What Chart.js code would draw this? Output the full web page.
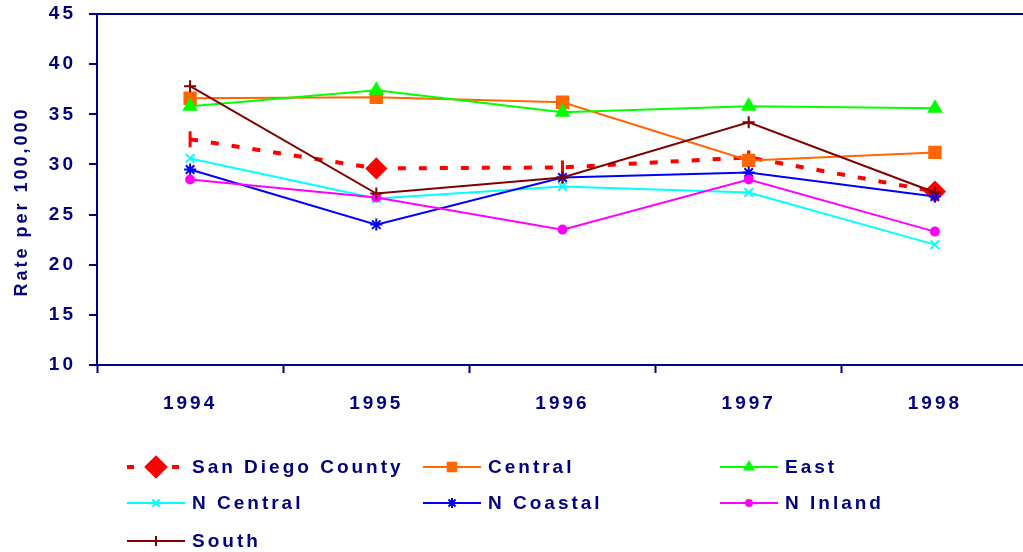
<!DOCTYPE html>
<html>
<head>
<meta charset="utf-8">
<script src="https://cdn.jsdelivr.net/npm/chart.js@4/dist/chart.umd.min.js"></script>
<style>
  html, body { margin: 0; padding: 0; background: #fff; overflow: hidden; }
  #wrap { width: 1040px; height: 552px; }
</style>
</head>
<body>
<div id="wrap"><canvas id="chart" width="1040" height="552"></canvas></div>
<script>
// values
const years = ['1994', '1995', '1996', '1997', '1998'];
const yTickValues = [10, 15, 20, 25, 30, 35, 40, 45];

const sanDiego = [32.5, 29.6, 29.7, 30.7, 27.3];
const central  = [36.6, 36.7, 36.2, 30.4, 31.2];
const east     = [35.8, 37.4, 35.2, 35.8, 35.6];
const nCentral = [30.6, 26.6, 27.8, 27.2, 22.0];
const nCoastal = [29.5, 24.0, 28.7, 29.2, 26.8];
const nInland  = [28.5, 26.7, 23.5, 28.5, 23.3];
const south    = [37.8, 27.1, 28.7, 34.2, 27.2];

const NAVY = '#000080';
const FONT = 'Liberation Sans, Arial, sans-serif';

function series(label, data, color, style, radius, legendRadius, order) {
    return {
        label: label,
        data: data,
        borderColor: color,
        backgroundColor: color,
        borderWidth: 2,
        pointStyle: style,
        pointRadius: radius,
        pointBorderWidth: 2,
        pointBackgroundColor: color,
        pointBorderColor: color,
        legendStyle: style,
        legendRadius: legendRadius,
        order: order
    };
}

const datasets = [
    {
        label: 'San Diego County',
        data: sanDiego,
        borderColor: '#ff0000',
        backgroundColor: '#ff0000',
        borderWidth: 4,
        borderDash: [8, 13],
        pointStyle: ['line', 'rectRot', 'line', 'line', 'rectRot'],
        rotation: [90, 0, 90, 90, 0],
        pointRadius: [8, 9, 7, 7, 9],
        pointBorderWidth: 3,
        pointBackgroundColor: '#ff0000',
        pointBorderColor: '#ff0000',
        legendStyle: 'rectRot',
        legendRadius: 9,
        order: 7
    },
    series('Central', central, '#ff6600', 'rect', 8, 6, 6),
    series('East', east, '#00ff00', 'triangle', 7, 5, 5),
    series('N Central', nCentral, '#00ffff', 'crossRot', 6, 5, 4),
    series('N Coastal', nCoastal, '#0000ff', 'star', 6, 5, 3),
    series('N Inland', nInland, '#ff00ff', 'circle', 4, 3, 2),
    series('South', south, '#800000', 'cross', 6, 5, 1)
];

// canvas letter spacing for the wide-set bold text
const spacingPlugin = {
    id: 'spacing',
    beforeUpdate(chart) { chart.ctx.letterSpacing = '3px'; },
    beforeDraw(chart) { chart.ctx.letterSpacing = '3px'; }
};

// legend in three fixed columns below the plot
const gridLegend = {
    id: 'gridLegend',
    afterDraw(chart) {
        const ctx = chart.ctx;
        const cols = [127, 423, 720];
        const rows = [467, 503, 541];
        chart.data.datasets.forEach((ds, i) => {
            const x = cols[i % 3];
            const y = rows[Math.floor(i / 3)];
            ctx.save();
            ctx.strokeStyle = ds.borderColor;
            ctx.lineWidth = ds.borderWidth;
            ctx.beginPath();
            if (ds.borderDash) {
                ctx.setLineDash([7, 38]);
                ctx.moveTo(x, y);
                ctx.lineTo(x + 52, y);
            } else {
                ctx.moveTo(x, y);
                ctx.lineTo(x + 58, y);
            }
            ctx.stroke();
            ctx.setLineDash([]);
            ctx.fillStyle = ds.borderColor;
            ctx.strokeStyle = ds.borderColor;
            Chart.helpers.drawPoint(ctx, {
                pointStyle: ds.legendStyle,
                radius: ds.legendRadius,
                rotation: 0,
                borderWidth: 2
            }, x + 29, y);
            ctx.letterSpacing = '3px';
            ctx.fillStyle = NAVY;
            ctx.font = 'bold 19px ' + FONT;
            ctx.textAlign = 'left';
            ctx.textBaseline = 'middle';
            ctx.fillText(ds.label, x + 65, y + 1);
            ctx.restore();
        });
    }
};

new Chart(document.getElementById('chart'), {
    type: 'line',
    data: { labels: years, datasets: datasets },
    plugins: [spacingPlugin, gridLegend],
    options: {
        responsive: false,
        animation: false,
        layout: { padding: { top: 14, right: 8, bottom: 127, left: 0 } },
        plugins: {
            legend: { display: false },
            tooltip: { enabled: false }
        },
        scales: {
            x: {
                type: 'category',
                offset: true,
                grid: {
                    display: true,
                    offset: true,
                    drawOnChartArea: false,
                    drawTicks: true,
                    tickLength: 8,
                    tickColor: NAVY,
                    tickWidth: 2
                },
                border: { color: NAVY, width: 2 },
                ticks: {
                    color: NAVY,
                    font: { family: FONT, size: 19, weight: 'bold' },
                    padding: 19,
                    maxRotation: 0
                },
                afterFit(scale) {
                    scale.height = 60;
                    scale.paddingLeft = 0;
                    scale.paddingRight = 0;
                }
            },
            y: {
                min: 10,
                max: 45,
                afterBuildTicks(scale) {
                    scale.ticks = yTickValues.map(v => ({ value: v }));
                },
                grid: {
                    drawOnChartArea: true,
                    color: ctx => (ctx.tick && ctx.tick.value === 45) ? NAVY : 'rgba(0,0,0,0)',
                    lineWidth: 2,
                    tickLength: 8,
                    tickColor: NAVY,
                    tickWidth: 2
                },
                border: { color: NAVY, width: 2 },
                ticks: {
                    color: NAVY,
                    font: { family: FONT, size: 19, weight: 'bold' },
                    padding: 13
                },
                title: {
                    display: true,
                    // trailing spaces nudge the rotated title down, as in the reference
                    text: 'Rate per 100,000   ',
                    color: NAVY,
                    font: { family: FONT, size: 18, weight: 'bold' },
                    padding: { top: 11, bottom: 0 }
                },
                afterFit(scale) {
                    scale.width = 97;
                    scale.paddingTop = 0;
                    scale.paddingBottom = 0;
                }
            }
        }
    }
});
</script>
</body>
</html>
